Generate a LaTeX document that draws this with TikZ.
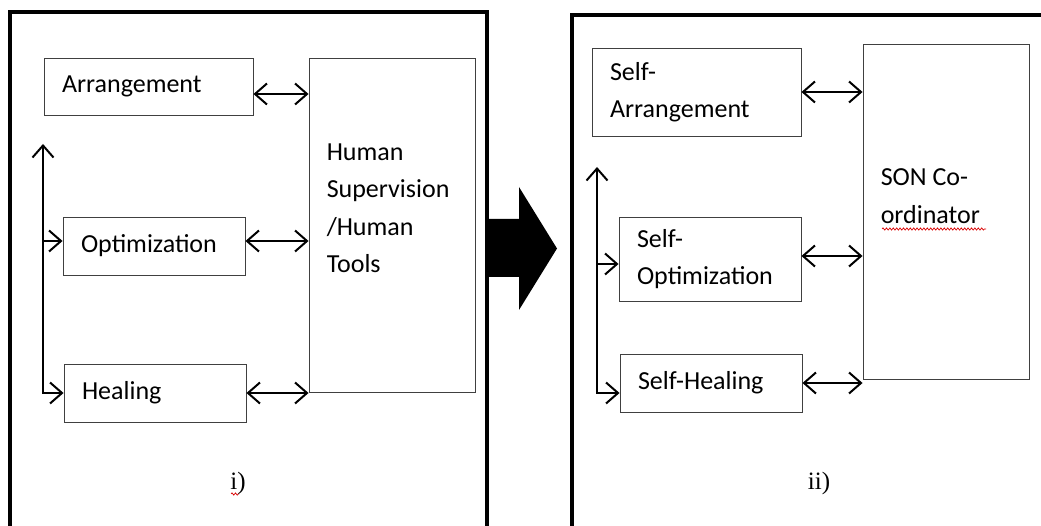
\documentclass[tikz,border=0pt]{standalone}
\usepackage{fontspec}
\setmainfont{Carlito}
\newfontfamily\capfont{Liberation Serif}
\usepackage{tikz}
\usetikzlibrary{
        arrows.meta,
        decorations.pathmorphing,
        positioning
    }
\tikzset{>={Straight Barb[length=12pt,width=21pt]}}
\tikzset{
    box/.style={draw=black!75, line width=0.9pt, inner sep=0pt, inner xsep=18pt,
        align=left, font=\fontsize{26}{37.5}\selectfont},
    txt/.style={inner sep=0pt, align=left, font=\fontsize{26}{37.5}\selectfont},
    link/.style={line width=2pt},
    frame/.style={line width=4pt},
    caption/.style={font=\capfont\fontsize{25}{25}\selectfont},
    spell/.style={draw=red!85!black, line width=0.7pt, decorate,
        decoration={snake, amplitude=1.1pt, segment length=3.4pt}}
}

\begin{document}
\begin{tikzpicture}[x=1pt,y=-1pt]
                \clip (0,0) rectangle (1041,526);
                % panel i)
                \draw[frame] (9.5,540) -- (9.5,12.5) -- (486.5,12.5) -- (486.5,540);
                \node[box, text width=173pt, minimum height=57pt] (arr)  at (148.5,86.5)  {Arrangement};
                \node[box, text width=146pt, minimum height=58pt] (opt)  at (154,246)   {Optimization};
                \node[box, text width=146pt, minimum height=58pt] (heal) at (155,393)   {Healing};
                \node[box, minimum width=166pt, minimum height=334pt] (hum) at (392,225) {};
                \node[txt, below right=86pt and 18pt of hum.north west] (humtxt) {Human\\Supervision\\/Human\\Tools};
                \node[caption] (capi) at (238,483) {i)};
                \draw[spell] (231,494) -- (239,494);
                \path[<->, link]
                    ([yshift=-7.5pt]arr.east)  edge ([yshift=-7.5pt]arr.east -| hum.west)
                    ([yshift=5pt]opt.east)     edge ([yshift=5pt]opt.east -| hum.west)
                    (heal.east)                edge (heal.east -| hum.west)
                    ;
                \coordinate (ltop) at (43,144);
                \draw[<->, link] (ltop) |- (heal.west);
                \draw[->, link] ([yshift=5pt]opt.west -| ltop) -- ([yshift=5pt]opt.west);
                % big arrow
                \fill (487,219) -- (519,219) -- (519,187) -- (557,248.5) -- (519,310) -- (519,277) -- (487,277) -- cycle;
                % panel ii)
                \draw[frame] (572,540) -- (572,15) -- (1050,15);
                \node[box, text width=173pt, minimum height=88pt] (sarr)  at (696.5,92) {Self-\\Arrangement};
                \node[box, text width=146pt, minimum height=84pt] (sopt)  at (710,259)  {Self-\\Optimization};
                \node[box, text width=146pt, minimum height=58pt] (sheal) at (711,383)  {Self-Healing};
                \node[box, minimum width=166pt, minimum height=335pt] (son) at (946,211.5) {};
                \node[txt, below right=125pt and 18pt of son.north west] (sontxt) {SON Co-\\ordinator};
                \draw[spell] (882,229) -- (986,229);
                \node[caption] (capii) at (819,483) {ii)};
                \path[<->, link]
                    (sarr.east)             edge (sarr.east -| son.west)
                    ([yshift=3pt]sopt.east) edge ([yshift=3pt]sopt.east -| son.west)
                    (sheal.east)            edge (sheal.east -| son.west)
                    ;
                \coordinate (rtop) at (597,167);
                \draw[<->, link] (rtop) |- ([yshift=-10pt]sheal.west);
                \draw[->, link] ([yshift=-5pt]sopt.west -| rtop) -- ([yshift=-5pt]sopt.west);
\end{tikzpicture}
\end{document}
